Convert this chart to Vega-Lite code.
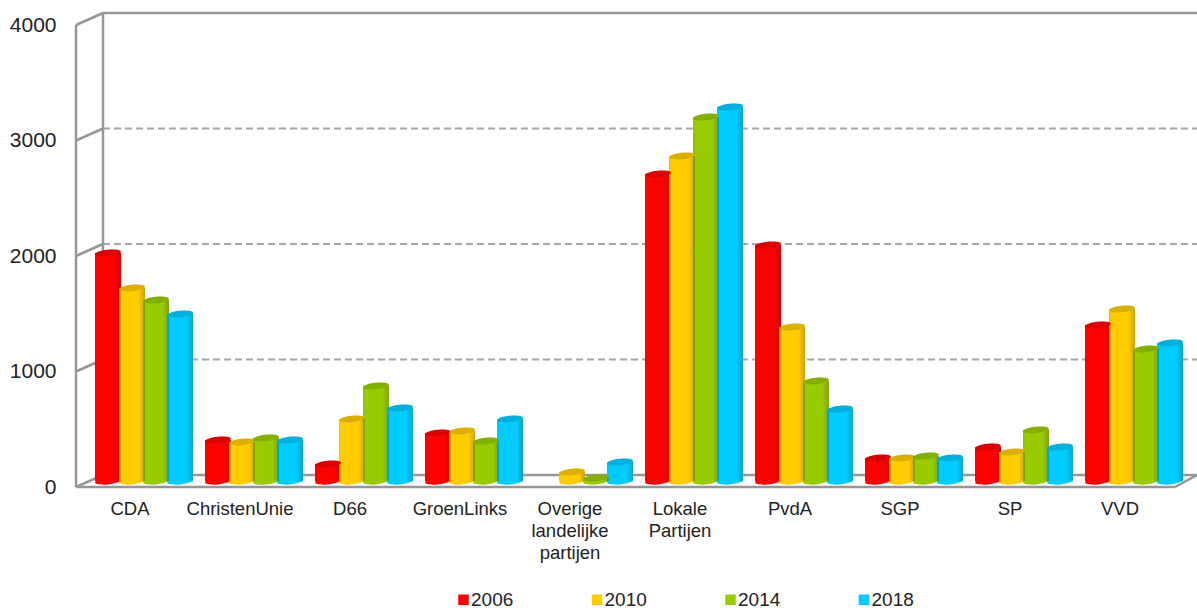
{"$schema":"https://vega.github.io/schema/vega-lite/v6.json","width":1122,"height":474,"autosize":"none","padding":{"left":75,"top":13,"right":0,"bottom":123},"background":"white","config":{"view":{"stroke":null},"font":"Liberation Sans"},
"datasets":{"votes":[
{"partij":"CDA","jaar":"2006","zetels":2026},{"partij":"CDA","jaar":"2010","zetels":1723},{"partij":"CDA","jaar":"2014","zetels":1619},{"partij":"CDA","jaar":"2018","zetels":1498},
{"partij":"ChristenUnie","jaar":"2006","zetels":407},{"partij":"ChristenUnie","jaar":"2010","zetels":390},{"partij":"ChristenUnie","jaar":"2014","zetels":424},{"partij":"ChristenUnie","jaar":"2018","zetels":407},
{"partij":"D66","jaar":"2006","zetels":199},{"partij":"D66","jaar":"2010","zetels":589},{"partij":"D66","jaar":"2014","zetels":874},{"partij":"D66","jaar":"2018","zetels":684},
{"partij":"GroenLinks","jaar":"2006","zetels":468},{"partij":"GroenLinks","jaar":"2010","zetels":485},{"partij":"GroenLinks","jaar":"2014","zetels":398},{"partij":"GroenLinks","jaar":"2018","zetels":589},
{"partij":"Overige landelijke partijen","jaar":"2010","zetels":130},{"partij":"Overige landelijke partijen","jaar":"2014","zetels":78},{"partij":"Overige landelijke partijen","jaar":"2018","zetels":216},
{"partij":"Lokale Partijen","jaar":"2006","zetels":2710},{"partij":"Lokale Partijen","jaar":"2010","zetels":2866},{"partij":"Lokale Partijen","jaar":"2014","zetels":3203},{"partij":"Lokale Partijen","jaar":"2018","zetels":3290},
{"partij":"PvdA","jaar":"2006","zetels":2095},{"partij":"PvdA","jaar":"2010","zetels":1385},{"partij":"PvdA","jaar":"2014","zetels":918},{"partij":"PvdA","jaar":"2018","zetels":675},
{"partij":"SGP","jaar":"2006","zetels":251},{"partij":"SGP","jaar":"2010","zetels":251},{"partij":"SGP","jaar":"2014","zetels":268},{"partij":"SGP","jaar":"2018","zetels":251},
{"partij":"SP","jaar":"2006","zetels":346},{"partij":"SP","jaar":"2010","zetels":303},{"partij":"SP","jaar":"2014","zetels":494},{"partij":"SP","jaar":"2018","zetels":346},
{"partij":"VVD","jaar":"2006","zetels":1403},{"partij":"VVD","jaar":"2010","zetels":1541},{"partij":"VVD","jaar":"2014","zetels":1195},{"partij":"VVD","jaar":"2018","zetels":1247}],
"frame":[
{"seg":"top","d":28,"v":4104},{"seg":"top","d":1122,"v":4104},
{"seg":"back","d":28,"v":4104},{"seg":"back","d":28,"v":104},
{"seg":"front","d":1,"v":4000},{"seg":"front","d":1,"v":0},
{"seg":"floorfront","d":1,"v":0},{"seg":"floorfront","d":1100,"v":0},
{"seg":"floorback","d":28,"v":104},{"seg":"floorback","d":1122,"v":104},
{"seg":"d0","d":1,"v":0},{"seg":"d0","d":28,"v":104},
{"seg":"dr","d":1100,"v":0},{"seg":"dr","d":1122,"v":104},
{"seg":"d1","d":1,"v":1000},{"seg":"d1","d":28,"v":1104},
{"seg":"d2","d":1,"v":2000},{"seg":"d2","d":28,"v":2104},
{"seg":"d3","d":1,"v":3000},{"seg":"d3","d":28,"v":3104},
{"seg":"d4","d":1,"v":4000},{"seg":"d4","d":28,"v":4104}],
"grid":[
{"seg":"g1","d":28,"v":1104},{"seg":"g1","d":1122,"v":1104},
{"seg":"g2","d":28,"v":2104},{"seg":"g2","d":1122,"v":2104},
{"seg":"g3","d":28,"v":3104},{"seg":"g3","d":1122,"v":3104}]},
"layer":[
{"data":{"name":"grid"},"mark":{"type":"line","stroke":"#a6a6a6","strokeWidth":2,"strokeDash":[7,4]},"encoding":{"x":{"field":"d","type":"quantitative","scale":{"domain":[0,1122],"nice":false},"axis":null},"y":{"field":"v","type":"quantitative","scale":{"domain":[0,4104],"nice":false},"axis":{"values":[0,1000,2000,3000,4000],"grid":false,"domain":false,"ticks":false,"title":null,"labelFontSize":21,"labelColor":"#222222","labelPadding":19,"format":"d"}},"detail":{"field":"seg"}}},
{"data":{"name":"frame"},"mark":{"type":"line","stroke":"#969696","strokeWidth":2.5},"encoding":{"x":{"field":"d","type":"quantitative","scale":{"domain":[0,1122],"nice":false},"axis":null},"y":{"field":"v","type":"quantitative","scale":{"domain":[0,4104],"nice":false}},"detail":{"field":"seg"}}},
{"data":{"name":"votes"},"layer":[
{"mark":{"type":"point","shape":"M-1,0A1,0.25 0 1,1 1,0A1,0.25 0 1,1 -1,0Z","size":676,"filled":true,"opacity":1,"angle":-6},"encoding":{"y":{"datum":50,"scale":{"domain":[0,4104],"nice":false}},"color":{"field":"jaar","type":"nominal"}}},
{"mark":{"type":"bar","width":26},"encoding":{"y":{"field":"zetels","type":"quantitative","scale":{"domain":[0,4104],"nice":false}},"y2":{"datum":50},"color":{"field":"jaar","type":"nominal","scale":{"domain":["2006","2010","2014","2018"],"range":["#ff0000","#ffcc00","#99cc00","#00ccff"]},"legend":{"orient":"none","legendX":379,"legendY":577,"direction":"horizontal","columns":4,"title":null,"symbolType":"square","symbolSize":110,"symbolStrokeWidth":0,"labelFontSize":19,"labelColor":"#222222","labelOffset":-2,"columnPadding":73.5,"padding":0}}}},
{"mark":{"type":"bar","width":26,"fill":{"gradient":"linear","x1":0,"x2":1,"y1":0,"y2":0,"stops":[{"offset":0,"color":"rgba(0,0,0,0.04)"},{"offset":0.25,"color":"rgba(255,255,255,0)"},{"offset":0.75,"color":"rgba(0,0,0,0)"},{"offset":1,"color":"rgba(0,0,0,0.2)"}]}},"encoding":{"y":{"field":"zetels","type":"quantitative","scale":{"domain":[0,4104],"nice":false}},"y2":{"datum":50}}},
{"mark":{"type":"point","shape":"M-1,0A1,0.25 0 1,1 1,0A1,0.25 0 1,1 -1,0Z","size":676,"filled":true,"opacity":1,"angle":-6},"encoding":{"y":{"field":"zetels","type":"quantitative","scale":{"domain":[0,4104],"nice":false}},"color":{"field":"jaar","type":"nominal"}}},
{"mark":{"type":"point","shape":"M-1,0A1,0.25 0 1,1 1,0A1,0.25 0 1,1 -1,0Z","size":676,"filled":true,"opacity":0.14,"angle":-6,"color":"#000000"},"encoding":{"y":{"field":"zetels","type":"quantitative","scale":{"domain":[0,4104],"nice":false}}}}
],"encoding":{"x":{"field":"partij","type":"nominal","sort":null,"scale":{"range":[14,1114],"paddingInner":0.127,"paddingOuter":0.0635},"axis":{"title":null,"ticks":false,"domain":false,"labelAngle":0,"labelOffset":-14,"labelPadding":12,"labelFontSize":18.5,"labelColor":"#222222","labelBaseline":"top","labelLineHeight":22,"labelExpr":"datum.value == 'Overige landelijke partijen' ? ['Overige','landelijke','partijen'] : datum.value == 'Lokale Partijen' ? ['Lokale','Partijen'] : datum.value"}},"xOffset":{"field":"jaar","type":"nominal","sort":["2006","2010","2014","2018"],"scale":{"domain":["2006","2010","2014","2018"]}}}}
],"resolve":{"scale":{"x":"independent"}}}
